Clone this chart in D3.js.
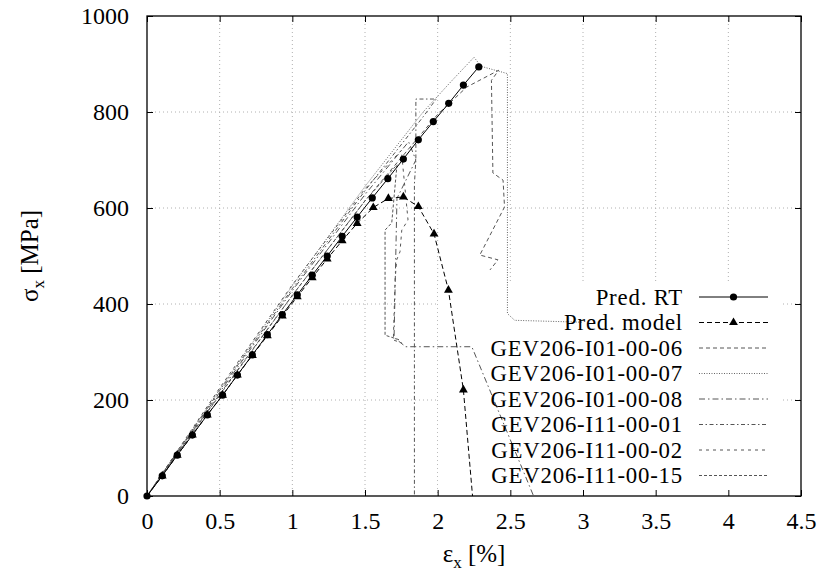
<!DOCTYPE html>
<html><head><meta charset="utf-8">
<script src="https://cdn.jsdelivr.net/npm/d3@7"></script>
<style>
body{margin:0;background:#fff}
svg{display:block}
text{font-family:"Liberation Serif","Times New Roman","DejaVu Serif",serif;fill:#000}
</style>
</head><body>
<svg id="chart" width="820" height="575"></svg>
<script>
// ---------- data ----------
const xTicks = [0, 0.5, 1, 1.5, 2, 2.5, 3, 3.5, 4, 4.5];
const yTicks = [0, 200, 400, 600, 800, 1000];
const seriesNames = ["Pred. RT", "Pred. model", "GEV206-I01-00-06", "GEV206-I01-00-07",
  "GEV206-I01-00-08", "GEV206-I11-00-01", "GEV206-I11-00-02", "GEV206-I11-00-15"];

const rtStrain = [0, 0.105, 0.208, 0.312, 0.415, 0.52, 0.622, 0.725, 0.828, 0.931, 1.034, 1.137,
  1.24, 1.343, 1.446, 1.55, 1.657, 1.764, 1.867, 1.97, 2.076, 2.177, 2.283];
const rtStress = [0, 42, 85, 127, 169, 210, 252, 294, 336, 378, 419, 460,
  500, 541, 581, 621, 661, 702, 742, 780, 818, 856, 894];

const modelStrain = [0, 0.105, 0.208, 0.312, 0.415, 0.52, 0.622, 0.725, 0.828, 0.931, 1.034, 1.137,
  1.24, 1.343, 1.446, 1.557, 1.661, 1.764, 1.867, 1.975, 2.074, 2.177, 2.247];
const modelStress = [0, 42, 85, 127, 169, 210, 252, 293, 334, 375, 415, 455,
  494, 532, 568, 601, 620, 623, 603, 546, 429, 221, -25];

const e06Strain = [0, 0.5, 1.0, 1.5, 2.0, 2.2, 2.42, 2.37, 2.38, 2.45, 2.46, 2.29, 2.415, 2.36];
const e06Stress = [0, 212, 418, 615, 795, 852, 887, 866, 673, 658, 602, 502, 492, 471];

const e07Strain = [0, 0.5, 1.0, 1.5, 1.9, 2.1, 2.25, 2.3, 2.48, 2.48, 2.53, 3.0];
const e07Stress = [0, 222, 438, 645, 800, 866, 914, 895, 880, 380, 366, 362];

const e08Strain = [0, 0.5, 1.0, 1.5, 1.8, 1.85, 1.72, 1.70, 1.78, 2.235, 2.66, 2.7];
const e08Stress = [0, 216, 428, 628, 738, 700, 620, 330, 311, 311, 0, -40];

const e01Strain = [0, 0.5, 1.0, 1.5, 1.9, 1.99, 1.85, 1.85, 1.84, 1.84];
const e01Stress = [0, 220, 432, 636, 790, 827, 827, 700, 650, -20];

const e02Strain = [0, 0.5, 1.0, 1.5, 1.75, 1.796, 1.753, 1.741, 1.718, 1.707, 1.695, 1.753];
const e02Stress = [0, 225, 440, 640, 720, 575, 554, 509, 492, 450, 325, 319];

const e15Strain = [0, 0.5, 1.0, 1.5, 1.72, 1.684, 1.638, 1.638, 1.741];
const e15Stress = [0, 210, 418, 615, 690, 569, 554, 335, 325];

// ---------- layout ----------
const svg = d3.select("#chart");
const L = 147, R = 801, T = 16, B = 496;
const x = d3.scaleLinear().domain([0, 4.5]).range([L, R]);
const y = d3.scaleLinear().domain([0, 1000]).range([B, T]);
const FS = 24;

svg.append("defs").append("clipPath").attr("id", "plotclip")
  .append("rect").attr("x", L).attr("y", T).attr("width", R - L).attr("height", B - T);

// grid
const grid = svg.append("g").attr("stroke", "#b0b0b0").attr("stroke-width", 1)
  .attr("stroke-dasharray", "1,3").attr("fill", "none");
xTicks.slice(1, -1).forEach(t => grid.append("line")
  .attr("x1", x(t)).attr("x2", x(t)).attr("y1", T).attr("y2", B));
yTicks.slice(1, -1).forEach(t => grid.append("line")
  .attr("x1", L).attr("x2", R).attr("y1", y(t)).attr("y2", y(t)));

// key area masks the grid
const keyBox = {x0: 438, x1: 783, y0: 283, y1: B};
svg.append("rect").attr("x", keyBox.x0).attr("y", keyBox.y0)
  .attr("width", keyBox.x1 - keyBox.x0).attr("height", keyBox.y1 - keyBox.y0).attr("fill", "#fff");

// axes
const axB = d3.axisBottom(x).tickValues(xTicks).tickSizeInner(-6).tickSizeOuter(0).tickPadding(16)
  .tickFormat(d3.format("~g"));
const axL = d3.axisLeft(y).tickValues(yTicks).tickSizeInner(-6).tickSizeOuter(0).tickPadding(18)
  .tickFormat(d3.format("d"));
const axT = d3.axisTop(x).tickValues(xTicks).tickSizeInner(-6).tickSizeOuter(0).tickFormat("");
const axR = d3.axisRight(y).tickValues(yTicks).tickSizeInner(-6).tickSizeOuter(0).tickFormat("");
function styleAxis(g) {
  g.attr("font-family", null);
  g.select(".domain").remove();
  g.selectAll(".tick line").attr("stroke", "#000").attr("stroke-width", 1);
  g.selectAll(".tick text").attr("font-size", FS).attr("fill", "#000");
}
svg.append("g").attr("transform", `translate(0,${B})`).call(axB).call(styleAxis)
  .selectAll(".tick text").attr("dy", "0.71em");
svg.append("g").attr("transform", `translate(${L},0)`).call(axL).call(styleAxis);
svg.append("g").attr("transform", `translate(0,${T})`).call(axT).call(styleAxis);
svg.append("g").attr("transform", `translate(${R},0)`).call(axR).call(styleAxis);

// data lines
const plot = svg.append("g").attr("clip-path", "url(#plotclip)");
const line = d3.line().x(d => x(d[0])).y(d => y(d[1]));
const zip = (a, b) => a.map((v, i) => [v, b[i]]);

const expStyles = [
  {name: seriesNames[2], sx: e06Strain, sy: e06Stress, dash: "4,3", color: "#555"},
  {name: seriesNames[3], sx: e07Strain, sy: e07Stress, dash: "1,1.5", color: "#666"},
  {name: seriesNames[4], sx: e08Strain, sy: e08Stress, dash: "6,3,1.5,3", color: "#555"},
  {name: seriesNames[5], sx: e01Strain, sy: e01Stress, dash: "4,2.5,1.5,2.5", color: "#555"},
  {name: seriesNames[6], sx: e02Strain, sy: e02Stress, dash: "3,4", color: "#555"},
  {name: seriesNames[7], sx: e15Strain, sy: e15Stress, dash: "3,2", color: "#555"}
];
expStyles.forEach(s => {
  plot.append("path").attr("d", line(zip(s.sx, s.sy))).attr("fill", "none")
    .attr("stroke", s.color).attr("stroke-width", 1).attr("stroke-dasharray", s.dash);
});

// Pred. model
const modelPts = zip(modelStrain, modelStress);
plot.append("path").attr("d", line(modelPts)).attr("fill", "none")
  .attr("stroke", "#000").attr("stroke-width", 1).attr("stroke-dasharray", "5,3");
const tri = d3.symbol().type(d3.symbolTriangle).size(34);
plot.selectAll(".tri").data(modelPts.filter(d => d[1] >= 0)).enter().append("path")
  .attr("d", tri).attr("transform", d => `translate(${x(d[0])},${y(d[1])})`).attr("fill", "#000");

// Pred. RT
const rtPts = zip(rtStrain, rtStress);
plot.append("path").attr("d", line(rtPts)).attr("fill", "none")
  .attr("stroke", "#000").attr("stroke-width", 1);
svg.selectAll(".dot").data(rtPts).enter().append("circle")
  .attr("cx", d => x(d[0])).attr("cy", d => y(d[1])).attr("r", 3.6).attr("fill", "#000");

// border
svg.append("rect").attr("x", L).attr("y", T).attr("width", R - L).attr("height", B - T)
  .attr("fill", "none").attr("stroke", "#000").attr("stroke-width", 1.3);

// key
const key = svg.append("g");
const keyRow0 = 297, keyStep = 25.5, keyTextX = 683, keyL0 = 699, keyL1 = 768;
const keyStyles = [
  {dash: null, color: "#000", marker: "circle"},
  {dash: "5,3", color: "#000", marker: "tri"},
  ...expStyles.map(s => ({dash: s.dash, color: s.color}))
];
seriesNames.forEach((n, i) => {
  const yy = keyRow0 + i * keyStep;
  key.append("text").attr("x", keyTextX).attr("y", yy).attr("dy", "0.35em")
    .attr("text-anchor", "end").attr("font-size", 22.8).attr("letter-spacing", 0.8).text(n);
  const st = keyStyles[i];
  key.append("line").attr("x1", keyL0).attr("x2", keyL1).attr("y1", yy).attr("y2", yy)
    .attr("stroke", st.color).attr("stroke-width", 1).attr("stroke-dasharray", st.dash);
  const mx = (keyL0 + keyL1) / 2;
  if (st.marker === "circle") key.append("circle").attr("cx", mx).attr("cy", yy).attr("r", 3.6);
  if (st.marker === "tri") key.append("path").attr("d", tri).attr("transform", `translate(${mx},${yy})`);
});

// axis titles
const yt = svg.append("text").attr("transform", "translate(38,256) rotate(-90)")
  .attr("text-anchor", "middle").attr("font-size", 25);
yt.append("tspan").text("σ");
yt.append("tspan").attr("font-size", 17).attr("dy", 6).text("x");
yt.append("tspan").attr("dy", -6).text(" [MPa]");

const xt = svg.append("text").attr("x", (L + R) / 2).attr("y", 562)
  .attr("text-anchor", "middle").attr("font-size", 25);
xt.append("tspan").text("ε");
xt.append("tspan").attr("font-size", 17).attr("dy", 6).text("x");
xt.append("tspan").attr("dy", -6).text(" [%]");
</script>
</body></html>
